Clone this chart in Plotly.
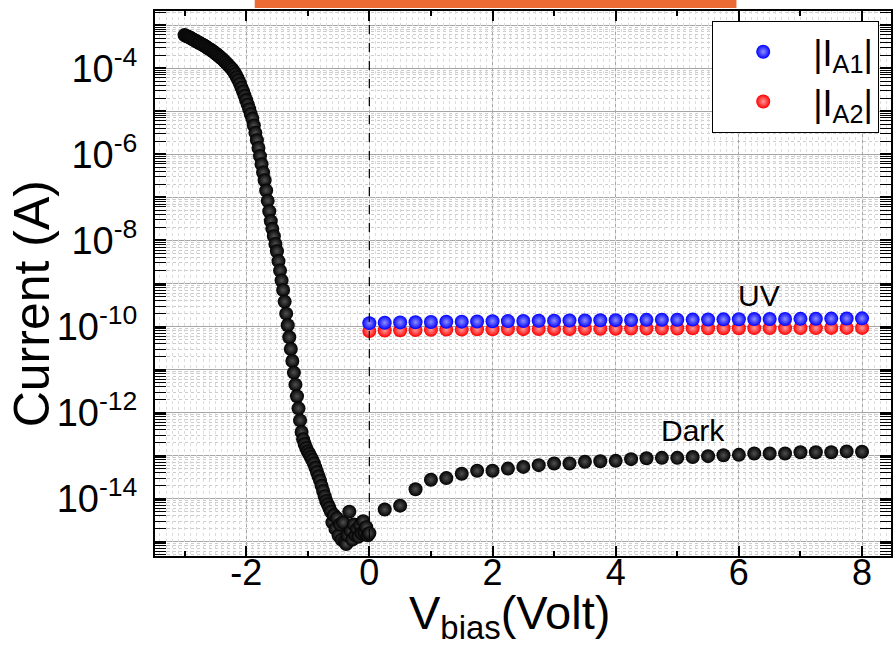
import plotly.graph_objects as go

# ---- measured data -------------------------------------------------------
# Dark current, reverse/negative sweep (V) and log10 of |I| (A)
dark_neg_v = [
    -3.000, -2.975, -2.950, -2.925, -2.900, -2.875, -2.850, -2.825, -2.800, -2.775,
    -2.750, -2.725, -2.700, -2.675, -2.650, -2.625, -2.600, -2.575, -2.550, -2.525,
    -2.500, -2.475, -2.450, -2.425, -2.400, -2.375, -2.350, -2.325, -2.300, -2.275,
    -2.250, -2.225, -2.200, -2.175, -2.150, -2.125, -2.100, -2.075, -2.050, -2.025,
    -2.000, -1.975, -1.950, -1.925, -1.900, -1.875, -1.850, -1.825, -1.800, -1.775,
    -1.750, -1.725, -1.700, -1.675, -1.650, -1.625, -1.600, -1.575, -1.550, -1.525,
    -1.500, -1.475, -1.450, -1.425, -1.400, -1.375, -1.350, -1.325, -1.300, -1.275,
    -1.250, -1.225, -1.200, -1.175, -1.150, -1.125, -1.100, -1.075, -1.050, -1.025,
    -1.000, -0.975, -0.950, -0.925, -0.900, -0.875, -0.850, -0.825, -0.800, -0.775,
    -0.750, -0.725, -0.700, -0.675, -0.650, -0.625, -0.600, -0.575, -0.550, -0.525,
    -0.500, -0.475, -0.450, -0.425, -0.400, -0.375, -0.350, -0.325, -0.300, -0.275,
    -0.250, -0.225, -0.200, -0.175, -0.150, -0.125, -0.100, -0.075, -0.050, -0.025,
    0.000,
]
dark_neg_log10 = [
    -3.23, -3.25, -3.26, -3.28, -3.30, -3.32, -3.34, -3.36, -3.38, -3.40,
    -3.42, -3.44, -3.46, -3.48, -3.50, -3.53, -3.55, -3.57, -3.60, -3.62,
    -3.65, -3.68, -3.71, -3.74, -3.77, -3.80, -3.84, -3.87, -3.91, -3.95,
    -3.99, -4.03, -4.08, -4.14, -4.21, -4.28, -4.36, -4.45, -4.54, -4.64,
    -4.74, -4.84, -4.95, -5.06, -5.17, -5.33, -5.50, -5.67, -5.85, -6.04,
    -6.23, -6.42, -6.60, -6.84, -7.08, -7.32, -7.55, -7.73, -7.90, -8.08,
    -8.25, -8.48, -8.70, -8.93, -9.15, -9.42, -9.70, -9.97, -10.25, -10.52,
    -10.80, -11.07, -11.35, -11.62, -11.90, -12.18, -12.45, -12.62, -12.73, -12.82,
    -12.90, -12.96, -13.03, -13.10, -13.18, -13.28, -13.38, -13.48, -13.58, -13.70,
    -13.82, -13.94, -14.05, -14.13, -14.21, -14.30, -14.55, -14.38, -14.70, -14.45,
    -14.85, -14.60, -14.95, -14.55, -15.00, -15.05, -14.85, -14.30, -14.75, -14.95,
    -14.60, -14.85, -14.70, -14.88, -14.62, -14.80, -14.52, -14.78, -14.66, -14.85,
    -14.80,
]

# Dark current, forward sweep
dark_pos_v = [
    0.25, 0.50, 0.75, 1.00, 1.25, 1.50, 1.75, 2.00, 2.25, 2.50, 2.75, 3.00,
    3.25, 3.50, 3.75, 4.00, 4.25, 4.50, 4.75, 5.00, 5.25, 5.50, 5.75, 6.00,
    6.25, 6.50, 6.75, 7.00, 7.25, 7.50, 7.75, 8.00,
]
dark_pos_log10 = [
    -14.25, -14.16, -13.78, -13.56, -13.52, -13.42, -13.35, -13.35, -13.30, -13.26,
    -13.22, -13.18, -13.18, -13.14, -13.13, -13.12, -13.08, -13.06, -13.05, -13.05,
    -13.03, -13.01, -12.99, -12.98, -12.95, -12.95, -12.95, -12.92, -12.92, -12.92,
    -12.90, -12.91,
]

# Photocurrent under UV for the two electrodes (A)
uv_v = [
    0.00, 0.25, 0.50, 0.75, 1.00, 1.25, 1.50, 1.75, 2.00, 2.25, 2.50, 2.75, 3.00,
    3.25, 3.50, 3.75, 4.00, 4.25, 4.50, 4.75, 5.00, 5.25, 5.50, 5.75, 6.00,
    6.25, 6.50, 6.75, 7.00, 7.25, 7.50, 7.75, 8.00,
]
i_a1 = [
    1.20e-10, 1.23e-10, 1.25e-10, 1.26e-10, 1.28e-10, 1.29e-10, 1.30e-10, 1.31e-10,
    1.33e-10, 1.34e-10, 1.35e-10, 1.36e-10, 1.37e-10, 1.38e-10, 1.39e-10, 1.40e-10,
    1.41e-10, 1.42e-10, 1.43e-10, 1.44e-10, 1.44e-10, 1.45e-10, 1.46e-10, 1.47e-10,
    1.48e-10, 1.49e-10, 1.50e-10, 1.50e-10, 1.51e-10, 1.52e-10, 1.53e-10, 1.54e-10,
    1.55e-10,
]
i_a2 = [
    7.9e-11, 8.1e-11, 8.2e-11, 8.3e-11, 8.4e-11, 8.5e-11, 8.5e-11, 8.6e-11,
    8.6e-11, 8.7e-11, 8.7e-11, 8.8e-11, 8.8e-11, 8.8e-11, 8.9e-11, 8.9e-11,
    8.9e-11, 9.0e-11, 9.0e-11, 9.0e-11, 9.0e-11, 9.1e-11, 9.1e-11, 9.1e-11,
    9.1e-11, 9.2e-11, 9.2e-11, 9.2e-11, 9.2e-11, 9.2e-11, 9.3e-11, 9.3e-11,
    9.3e-11,
]

# axis tick layout
x_major = [-2, 0, 2, 4, 6, 8]
x_labels = ["-2", "0", "2", "4", "6", "8"]
y_decades = list(range(-15, -2))
y_labelled = [-14, -12, -10, -8, -6, -4]

# -------------------------------------------------------------------------
FONT = "Liberation Sans, Arial, sans-serif"

dark_v = dark_neg_v + dark_pos_v
dark_i = [10 ** e for e in dark_neg_log10 + dark_pos_log10]


def ball(color, core):
    return dict(color=color, size=14, line=dict(width=0),
                gradient=dict(type="radial", color=core))


fig = go.Figure()

# empty trace that carries the fine dotted background grid axis
fig.add_trace(go.Scatter(x=[None], y=[None], xaxis="x2", yaxis="y",
                         showlegend=False, hoverinfo="skip"))

fig.add_trace(go.Scatter(x=dark_v, y=dark_i, mode="markers", name="Dark",
                         marker=ball("#000000", "#505050"), showlegend=False))
fig.add_trace(go.Scatter(x=uv_v, y=i_a2, mode="markers", name="|I<sub>A2</sub>|",
                         marker=ball("#ff0000", "#ff9a9a"), legendrank=2))
fig.add_trace(go.Scatter(x=uv_v, y=i_a1, mode="markers", name="|I<sub>A1</sub>|",
                         marker=ball("#0000ff", "#8f8fff"), legendrank=1))

minor_y = [m * 10.0 ** e for e in range(-16, -2) for m in range(2, 10)]
x_range = [-3.48, 8.47]

fig.update_layout(
    width=894, height=645,
    margin=dict(l=155, r=1, t=11, b=89),
    paper_bgcolor="white", plot_bgcolor="white",
    font=dict(family=FONT, color="black"),
    xaxis=dict(
        range=x_range, tickmode="array", tickvals=x_major, ticktext=x_labels,
        ticks="inside", ticklen=10, tickwidth=1.5, tickcolor="black",
        showline=True, linecolor="black", linewidth=2, mirror="allticks",
        showgrid=True, gridcolor="#a6a6a6", gridwidth=1.3, zeroline=False,
        tickfont=dict(size=36, family=FONT), ticklabelstandoff=-16,
        minor=dict(dtick=1, tick0=1, ticks="inside", ticklen=5, tickwidth=1.5,
                   tickcolor="black", showgrid=True, gridcolor="#b5b5b5",
                   griddash="dot", gridwidth=1),
    ),
    xaxis2=dict(
        range=x_range, overlaying="x", side="bottom", dtick=0.1, tick0=0,
        showgrid=True, gridcolor="#dcdcdc", griddash="dot", gridwidth=1,
        showticklabels=False, ticks="", showline=False, zeroline=False,
    ),
    yaxis=dict(
        type="log", range=[-15.33, -2.67], tickmode="array",
        tickvals=[10.0 ** e for e in y_decades],
        ticktext=[("10<sup>%d</sup>" % e) if e in y_labelled else "" for e in y_decades],
        ticks="inside", ticklen=11, tickwidth=1.5, tickcolor="black",
        showline=True, linecolor="black", linewidth=2, mirror="allticks",
        showgrid=True, gridcolor="#a6a6a6", gridwidth=1.3, zeroline=False,
        tickfont=dict(size=38, family=FONT), ticklabelstandoff=8,
        minor=dict(tickmode="array", tickvals=minor_y, ticks="inside", ticklen=6,
                   tickwidth=1.2, tickcolor="black", showgrid=True,
                   gridcolor="#cccccc", griddash="dot", gridwidth=1),
    ),
    legend=dict(
        x=0.984, y=0.982, xanchor="right", yanchor="top",
        bgcolor="white", bordercolor="black", borderwidth=1,
        font=dict(size=36, family=FONT), itemwidth=90,
        traceorder="normal", tracegroupgap=0,
    ),
    showlegend=True,
)

# zero-bias reference line
fig.add_shape(type="line", x0=0, x1=0, xref="x", y0=0, y1=1, yref="paper",
              line=dict(color="black", width=1.2, dash="dash"))

# orange banner above the frame
fig.add_shape(type="rect", xref="paper", yref="paper", x0=0.1355, x1=0.790,
              y0=1.0055, y1=1.03, fillcolor="#ec6a33", line=dict(width=0))

# curve labels (y in log10 units on the log axis)
fig.add_annotation(x=6.32, y=-9.28, text="UV", showarrow=False,
                   font=dict(size=30, family=FONT))
fig.add_annotation(x=5.26, y=-12.42, text="Dark", showarrow=False,
                   font=dict(size=30, family=FONT))

# axis titles
fig.add_annotation(xref="paper", yref="paper", x=0.482, y=-0.168,
                   xanchor="center", yanchor="bottom",
                   text="V<sub>bias</sub>(Volt)", showarrow=False,
                   font=dict(size=47, family=FONT))
fig.add_annotation(xref="paper", yref="paper", x=-0.167, y=0.462,
                   xanchor="center", yanchor="middle",
                   text="Current (A)", textangle=-90, showarrow=False,
                   font=dict(size=50, family=FONT))

fig.write_html("out.html")
